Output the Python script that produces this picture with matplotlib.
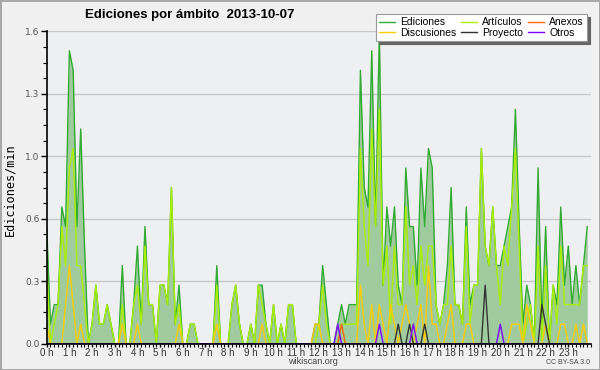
import numpy as np
import matplotlib
matplotlib.use("Agg")
import matplotlib.pyplot as plt
from matplotlib.ticker import MultipleLocator

# edits per minute, one value per 10 min slot (144 slots)
ediciones = [0.6, 0.1, 0.2, 0.2, 0.7, 0.6, 1.5, 1.4, 0.6, 1.1, 0.5, 0.0, 0.1, 0.3, 0.1, 0.1, 0.2, 0.1,
             0.0, 0.0, 0.4, 0.0, 0.0, 0.2, 0.5, 0.1, 0.6, 0.2, 0.2, 0.0, 0.3, 0.3, 0.2, 0.8, 0.1, 0.3,
             0.0, 0.0, 0.1, 0.1, 0.0, 0.0, 0.0, 0.0, 0.0, 0.4, 0.0, 0.0, 0.0, 0.2, 0.3, 0.1, 0.0, 0.0,
             0.1, 0.0, 0.3, 0.3, 0.1, 0.0, 0.2, 0.0, 0.1, 0.0, 0.2, 0.2, 0.0, 0.0, 0.0, 0.0, 0.0, 0.1,
             0.1, 0.4, 0.2, 0.0, 0.0, 0.1, 0.2, 0.1, 0.2, 0.2, 0.2, 1.4, 0.8, 0.7, 1.5, 0.6, 1.6, 0.3,
             0.7, 0.5, 0.7, 0.3, 0.2, 0.9, 0.6, 0.6, 0.3, 0.9, 0.6, 1.0, 0.9, 0.2, 0.1, 0.2, 0.4, 0.8,
             0.2, 0.2, 0.1, 0.7, 0.2, 0.3, 0.3, 1.0, 0.5, 0.4, 0.7, 0.4, 0.4, 0.5, 0.6, 0.7, 1.2, 0.6,
             0.1, 0.3, 0.2, 0.0, 0.9, 0.1, 0.6, 0.0, 0.3, 0.2, 0.7, 0.3, 0.5, 0.2, 0.4, 0.2, 0.4, 0.6]
articulos = [0.4, 0.0, 0.1, 0.2, 0.6, 0.4, 0.9, 1.0, 0.4, 0.4, 0.2, 0.0, 0.1, 0.3, 0.1, 0.1, 0.2, 0.1,
             0.0, 0.0, 0.2, 0.0, 0.0, 0.2, 0.3, 0.1, 0.5, 0.2, 0.2, 0.0, 0.3, 0.3, 0.2, 0.8, 0.1, 0.2,
             0.0, 0.0, 0.1, 0.1, 0.0, 0.0, 0.0, 0.0, 0.0, 0.3, 0.0, 0.0, 0.0, 0.2, 0.3, 0.1, 0.0, 0.0,
             0.1, 0.0, 0.3, 0.2, 0.1, 0.0, 0.2, 0.0, 0.1, 0.0, 0.2, 0.2, 0.0, 0.0, 0.0, 0.0, 0.0, 0.0,
             0.1, 0.3, 0.1, 0.0, 0.0, 0.0, 0.1, 0.1, 0.1, 0.1, 0.1, 1.0, 0.6, 0.4, 1.1, 0.6, 1.2, 0.3,
             0.5, 0.1, 0.5, 0.2, 0.2, 0.7, 0.3, 0.4, 0.2, 0.5, 0.3, 0.5, 0.5, 0.2, 0.1, 0.2, 0.2, 0.5,
             0.2, 0.2, 0.1, 0.6, 0.1, 0.3, 0.3, 1.0, 0.5, 0.4, 0.7, 0.4, 0.2, 0.5, 0.4, 0.7, 1.0, 0.5,
             0.0, 0.1, 0.2, 0.0, 0.5, 0.0, 0.4, 0.0, 0.3, 0.1, 0.5, 0.2, 0.2, 0.2, 0.2, 0.2, 0.4, 0.4]
discusiones = [0.1, 0.0, 0.0, 0.0, 0.0, 0.2, 0.4, 0.2, 0.0, 0.1, 0.0, 0.0, 0.0, 0.0, 0.0, 0.0, 0.0, 0.0,
               0.0, 0.0, 0.1, 0.0, 0.0, 0.0, 0.1, 0.0, 0.0, 0.0, 0.0, 0.0, 0.0, 0.0, 0.0, 0.0, 0.0, 0.1,
               0.0, 0.0, 0.0, 0.0, 0.0, 0.0, 0.0, 0.0, 0.0, 0.1, 0.0, 0.0, 0.0, 0.0, 0.0, 0.0, 0.0, 0.0,
               0.0, 0.0, 0.0, 0.1, 0.0, 0.0, 0.0, 0.0, 0.0, 0.0, 0.0, 0.0, 0.0, 0.0, 0.0, 0.0, 0.0, 0.1,
               0.1, 0.0, 0.0, 0.0, 0.0, 0.0, 0.0, 0.0, 0.0, 0.0, 0.0, 0.3, 0.1, 0.0, 0.2, 0.0, 0.2, 0.1,
               0.0, 0.2, 0.1, 0.0, 0.1, 0.2, 0.1, 0.0, 0.1, 0.2, 0.0, 0.4, 0.1, 0.1, 0.0, 0.0, 0.1, 0.2,
               0.0, 0.0, 0.0, 0.1, 0.1, 0.0, 0.0, 0.0, 0.0, 0.0, 0.0, 0.0, 0.0, 0.0, 0.0, 0.1, 0.1, 0.1,
               0.0, 0.2, 0.1, 0.0, 0.0, 0.0, 0.1, 0.0, 0.0, 0.0, 0.1, 0.1, 0.0, 0.0, 0.1, 0.0, 0.1, 0.0]
anexos = [0.0] * 144
anexos[78] = 0.1
proyecto = [0.0] * 144
for k, v in [(93, 0.1), (96, 0.1), (100, 0.1), (116, 0.3), (131, 0.2), (132, 0.1)]:
    proyecto[k] = v
otros = [0.0] * 144
for k in [77, 88, 97, 120]:
    otros[k] = 0.1

hours = np.arange(144) / 6.0
hour_labels = ["%d h" % h for h in range(24)]

fig = plt.figure(figsize=(6, 3.7), dpi=100)
fig.patch.set_facecolor("#f0f0f0")
fig.patch.set_edgecolor("#a8a8a8")
fig.patch.set_linewidth(2)

ax = fig.add_axes([46.7 / 600, 26.3 / 370, (591 - 46.7) / 600, (343.7 - 31.3) / 370])
ax.set_facecolor("#eeeff1")

ax.fill_between(hours, ediciones, 0, color="#9fcb9f", lw=0)
l_ed, = ax.plot(hours, ediciones, color="#33aa33", lw=1.0, label="Ediciones")
l_ar, = ax.plot(hours, articulos, color="#aaee00", lw=1.0, label="Artículos")
l_di, = ax.plot(hours, discusiones, color="#ffcc00", lw=1.0, label="Discusiones")
l_an, = ax.plot(hours, anexos, color="#ff6600", lw=1.0, label="Anexos")
l_pr, = ax.plot(hours, proyecto, color="#333333", lw=1.0, label="Proyecto")
l_ot, = ax.plot(hours, otros, color="#8000ff", lw=1.0, label="Otros")

ax.set_xlim(0, 24)
ax.set_ylim(0, 1.6)
yt = np.linspace(0, 1.6, 6)
ax.set_yticks(yt)
ax.set_yticklabels(["%.1f" % v for v in yt])
ax.yaxis.set_minor_locator(MultipleLocator(0.08))
ax.grid(axis="y", color="#c8c8c8", lw=1)
ax.set_axisbelow(True)
ax.set_xticks(np.arange(24))
ax.set_xticklabels(hour_labels, family="Liberation Sans")
ax.xaxis.set_minor_locator(MultipleLocator(1 / 6))

for s in ["top", "right"]:
    ax.spines[s].set_visible(False)
for s in ["left", "bottom"]:
    ax.spines[s].set_linewidth(1.2)
ax.tick_params(axis="y", which="major", length=4, width=1, labelsize=6.5, labelcolor="#555555", pad=1)
ax.tick_params(axis="y", which="minor", length=3, width=0.8)
ax.tick_params(axis="x", which="major", length=2.5, width=1, labelsize=7, labelcolor="#333333", pad=0.5)
ax.tick_params(axis="x", which="minor", length=2.2, width=0.8)

fig.text(10 / 600, 1 - 190 / 370, "Ediciones/min", family="DejaVu Sans Mono", fontsize=8.5,
         rotation=90, ha="center", va="center")

fig.text(85 / 600, 1 - 15 / 370, "Ediciones por ámbito  2013-10-07", family="Liberation Sans",
         fontsize=9.5, fontweight="bold", ha="left", va="center")
fig.text(313 / 600, 1 - 362 / 370, "wikiscan.org", family="Liberation Sans", fontsize=6.5,
         color="#444444", ha="center", va="center")
fig.text(590 / 600, 1 - 362 / 370, "CC BY-SA 3.0", family="Liberation Sans", fontsize=5,
         color="#444444", ha="right", va="center")

leg = fig.legend([l_ed, l_di, l_ar, l_pr, l_an, l_ot],
                 ["Ediciones", "Discusiones", "Artículos", "Proyecto", "Anexos", "Otros"],
                 ncol=3, loc="upper right", bbox_to_anchor=(592 / 600, 1 - 9 / 370),
                 prop={"family": "Liberation Sans", "size": 7.5}, frameon=True, fancybox=False,
                 framealpha=1, edgecolor="#999999", handlelength=1.5, handletextpad=0.5,
                 columnspacing=0.5, labelspacing=0.05, borderpad=0.3,
                 shadow={"color": "#666666", "alpha": 1})
leg.get_frame().set_linewidth(0.8)

fig.savefig("out.png", dpi=100, facecolor=fig.get_facecolor(), edgecolor=fig.get_edgecolor())
